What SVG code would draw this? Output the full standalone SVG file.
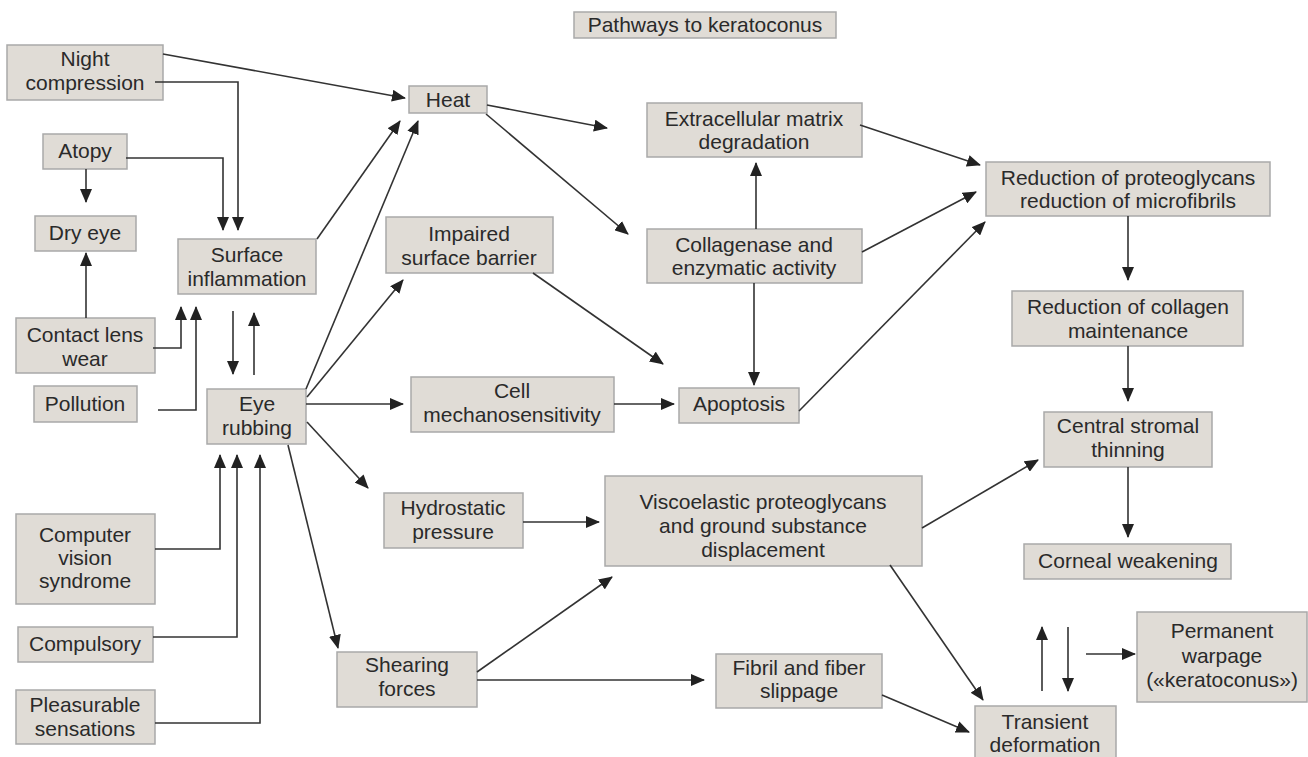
<svg xmlns="http://www.w3.org/2000/svg" width="1308" height="757" viewBox="0 0 1308 757">
<defs>
<marker id="ah" markerUnits="userSpaceOnUse" markerWidth="14" markerHeight="12" refX="13" refY="6" orient="auto"><path d="M0,0 L14,6 L0,12 z" fill="#222"/></marker>
</defs>
<style>
.b{fill:#e0dcd6;stroke:#a9a9a9;stroke-width:1.5}
text{font-family:"Liberation Sans",Arial,sans-serif;font-size:21px;fill:#2a2a2a;text-anchor:middle}
.c path{fill:none;stroke:#333;stroke-width:1.6;marker-end:url(#ah)}
</style>
<rect width="1308" height="757" fill="#fff"/>
<g id="title"><rect class="b" x="574" y="12" width="262" height="26"/><text x="705" y="32">Pathways to keratoconus</text></g>
<g id="night"><rect class="b" x="7" y="45" width="156" height="55"/><text x="85" y="66">Night</text><text x="85" y="90">compression</text></g>
<g id="heat"><rect class="b" x="409" y="86" width="78" height="27"/><text x="448" y="107">Heat</text></g>
<g id="atopy"><rect class="b" x="43" y="134" width="84" height="35"/><text x="85" y="158">Atopy</text></g>
<g id="dryeye"><rect class="b" x="35" y="216" width="101" height="35"/><text x="85" y="240">Dry eye</text></g>
<g id="surface"><rect class="b" x="178" y="239" width="138" height="55"/><text x="247" y="262">Surface</text><text x="247" y="286">inflammation</text></g>
<g id="contact"><rect class="b" x="16" y="318" width="139" height="55"/><text x="85" y="342">Contact lens</text><text x="85" y="366">wear</text></g>
<g id="pollution"><rect class="b" x="34" y="386" width="103" height="36"/><text x="85" y="411">Pollution</text></g>
<g id="eyerub"><rect class="b" x="207" y="389" width="99" height="55"/><text x="257" y="411">Eye</text><text x="257" y="435">rubbing</text></g>
<g id="impaired"><rect class="b" x="386" y="217" width="167" height="56"/><text x="469" y="241">Impaired</text><text x="469" y="265">surface barrier</text></g>
<g id="cell"><rect class="b" x="411" y="377" width="203" height="55"/><text x="512" y="398">Cell</text><text x="512" y="422">mechanosensitivity</text></g>
<g id="apoptosis"><rect class="b" x="679" y="388" width="120" height="35"/><text x="739" y="411">Apoptosis</text></g>
<g id="collagenase"><rect class="b" x="647" y="229" width="215" height="54"/><text x="754" y="252">Collagenase and</text><text x="754" y="275">enzymatic activity</text></g>
<g id="ecm"><rect class="b" x="647" y="103" width="215" height="54"/><text x="754" y="126">Extracellular matrix</text><text x="754" y="149">degradation</text></g>
<g id="redprot"><rect class="b" x="986" y="162" width="284" height="54"/><text x="1128" y="185">Reduction of proteoglycans</text><text x="1128" y="208">reduction of microfibrils</text></g>
<g id="redcoll"><rect class="b" x="1012" y="291" width="231" height="55"/><text x="1128" y="314">Reduction of collagen</text><text x="1128" y="338">maintenance</text></g>
<g id="central"><rect class="b" x="1044" y="412" width="168" height="55"/><text x="1128" y="433">Central stromal</text><text x="1128" y="457">thinning</text></g>
<g id="corneal"><rect class="b" x="1024" y="544" width="207" height="35"/><text x="1128" y="568">Corneal weakening</text></g>
<g id="visco"><rect class="b" x="605" y="476" width="317" height="90"/><text x="763" y="509">Viscoelastic proteoglycans</text><text x="763" y="533">and ground substance</text><text x="763" y="557">displacement</text></g>
<g id="hydro"><rect class="b" x="384" y="493" width="139" height="55"/><text x="453" y="515">Hydrostatic</text><text x="453" y="539">pressure</text></g>
<g id="shear"><rect class="b" x="337" y="652" width="140" height="55"/><text x="407" y="672">Shearing</text><text x="407" y="696">forces</text></g>
<g id="fibril"><rect class="b" x="716" y="654" width="166" height="54"/><text x="799" y="675">Fibril and fiber</text><text x="799" y="698">slippage</text></g>
<g id="transient"><rect class="b" x="975" y="706" width="141" height="60"/><text x="1045" y="729">Transient</text><text x="1045" y="752">deformation</text></g>
<g id="permanent"><rect class="b" x="1137" y="612" width="170" height="90"/><text x="1222" y="638">Permanent</text><text x="1222" y="663">warpage</text><text x="1222" y="687">(«keratoconus»)</text></g>
<g id="computer"><rect class="b" x="16" y="514" width="139" height="90"/><text x="85" y="542">Computer</text><text x="85" y="565">vision</text><text x="85" y="588">syndrome</text></g>
<g id="compulsory"><rect class="b" x="18" y="627" width="135" height="35"/><text x="85" y="651">Compulsory</text></g>
<g id="pleasurable"><rect class="b" x="16" y="690" width="139" height="54"/><text x="85" y="712">Pleasurable</text><text x="85" y="736">sensations</text></g>
<g id="connectors" class="c">
<path d="M163,54 L405,98"/>
<path d="M155,82 H238 V230"/>
<path d="M126,158 H223 V230"/>
<path d="M86,169 V202"/>
<path d="M86,318 V253"/>
<path d="M153,348 H181 V307"/>
<path d="M158,410 H196 V307"/>
<path d="M233,311 V374"/>
<path d="M254,375 V313"/>
<path d="M317,239 L400,121"/>
<path d="M306,389 L418,121"/>
<path d="M307,397 L403,280"/>
<path d="M306,404 H403"/>
<path d="M307,422 L368,488"/>
<path d="M288,445 L338,648"/>
<path d="M155,549 H220 V455"/>
<path d="M153,637 H237 V455"/>
<path d="M155,723 H260 V455"/>
<path d="M533,273 L663,364"/>
<path d="M614,404 H674"/>
<path d="M754,283 V385"/>
<path d="M756,229 V163"/>
<path d="M487,105 L607,128"/>
<path d="M486,114 L628,234"/>
<path d="M860,125 L980,165"/>
<path d="M862,252 L976,192"/>
<path d="M799,411 L985,222"/>
<path d="M1128,216 V280"/>
<path d="M1128,346 V401"/>
<path d="M1128,467 V537"/>
<path d="M922,528 L1038,460"/>
<path d="M890,565 L983,700"/>
<path d="M523,522 H599"/>
<path d="M477,672 L612,577"/>
<path d="M477,680 H704"/>
<path d="M882,695 L969,732"/>
<path d="M1042,691 V627"/>
<path d="M1068,627 V691"/>
<path d="M1086,654 H1135"/>
</g>
</svg>
